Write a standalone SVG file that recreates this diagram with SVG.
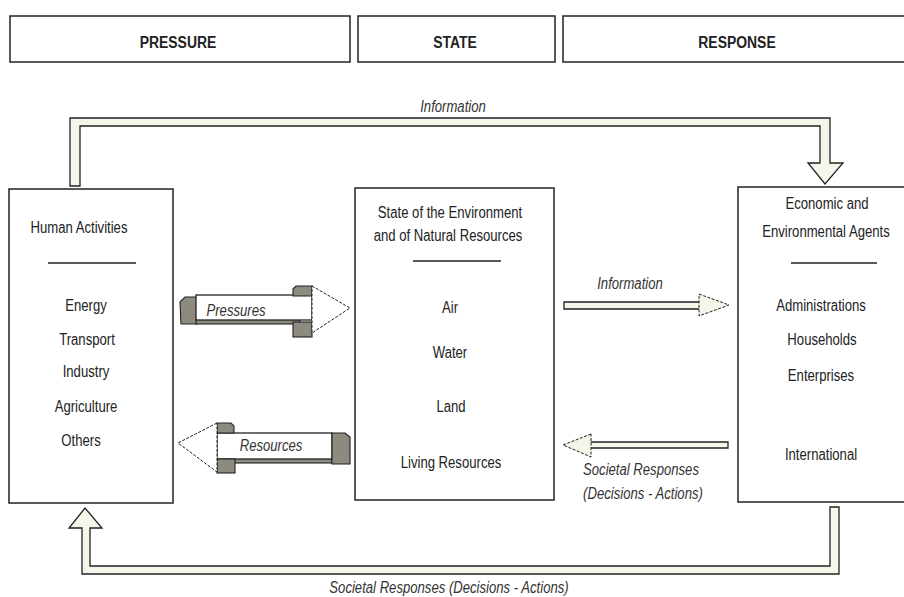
<svg xmlns="http://www.w3.org/2000/svg" width="904" height="597" viewBox="0 0 904 597">
<style>
text{font-family:"Liberation Sans",Arial,sans-serif;font-size:16px;fill:#222;text-anchor:middle}
.hdr{font-weight:bold;font-size:17px}
.it{font-style:italic;fill:#333}
.box{fill:#fff;stroke:#222;stroke-width:1.5}
.sep{stroke:#222;stroke-width:1.3}
.flow{fill:#f2f7ea;stroke:#222;stroke-width:1.3}
.head{fill:#f2f7ea;stroke:#222;stroke-width:1;stroke-dasharray:3 1.5}
.whead{fill:#fff;stroke:#222;stroke-width:1;stroke-dasharray:3 1.5}
.shaft{fill:#fff;stroke:#222;stroke-width:1.3}
.blk{fill:#8d8a80;stroke:#222;stroke-width:1.1}
</style>
<rect width="904" height="597" fill="#fff"/>
<g id="hdr-pressure"><rect class="box" x="10" y="16" width="340" height="46"/><text class="hdr" transform="translate(178 48) scale(.82 1)">PRESSURE</text></g>
<g id="hdr-state"><rect class="box" x="358" y="16" width="197" height="46"/><text class="hdr" transform="translate(455 48) scale(.82 1)">STATE</text></g>
<g id="hdr-response"><rect class="box" x="563" y="16" width="350" height="46"/><text class="hdr" transform="translate(737 48) scale(.82 1)">RESPONSE</text></g>

<g id="connectors">
<polygon id="info-top" class="flow" points="70,186 70,118 830,118 830,163 843,163 825,184 808,163 820,163 820,126 80,126 80,186"/>
<text class="it" transform="translate(453 112) scale(.82 1)">Information</text>
<polygon id="resp-bottom" class="flow" points="839,507 839,574 82,574 82,528 69,528 85,508 102,528 90,528 90,566 830,566 830,507"/>
<text class="it" transform="translate(449 593) scale(.82 1)">Societal Responses (Decisions - Actions)</text>

<g id="pressures-arrow">
<polygon class="blk" points="180,302 185,297 197,297 197,324 181,324"/>
<rect class="blk" x="196" y="319" width="104" height="5"/>
<rect class="shaft" x="196" y="295" width="116" height="25"/>
<polygon class="blk" points="293,289 296,286 312,286 312,296 293,296"/>
<rect class="blk" x="293" y="322" width="19" height="15"/>
<polygon class="whead" points="312,286 350,308 312,333"/>
<text class="it" transform="translate(236 316) scale(.82 1)">Pressures</text>
</g>
<g id="resources-arrow">
<rect class="blk" x="228" y="458" width="104" height="5"/>
<rect class="shaft" x="217" y="433" width="115" height="26"/>
<polygon class="blk" points="332,433 345,433 350,437 350,464 332,464"/>
<polygon class="blk" points="217,423 231,423 234,426 234,433 217,433"/>
<rect class="blk" x="217" y="459" width="18" height="14"/>
<polygon class="whead" points="217,423 178,443 217,472"/>
<text class="it" transform="translate(271 451) scale(.82 1)">Resources</text>
</g>
<g id="info-mid">
<polygon class="flow" points="564,302 700,302 700,309 564,309"/>
<polygon class="head" points="699,294 729,305 699,316"/>
<text class="it" transform="translate(630 289) scale(.82 1)">Information</text>
</g>
<g id="resp-mid">
<polygon class="flow" points="728,442 590,442 590,448 728,448"/>
<polygon class="head" points="591,434 563,445 591,457"/>
<text class="it" transform="translate(641 475) scale(.82 1)">Societal Responses</text>
<text class="it" transform="translate(643 499) scale(.82 1)">(Decisions - Actions)</text>
</g>
</g>

<g id="human-activities">
<rect class="box" x="9" y="189" width="164" height="314"/>
<text transform="translate(79 233) scale(.82 1)">Human Activities</text>
<line class="sep" x1="48" y1="263" x2="136" y2="263"/>
<text transform="translate(86 311) scale(.82 1)">Energy</text>
<text transform="translate(87 345) scale(.82 1)">Transport</text>
<text transform="translate(86 377) scale(.82 1)">Industry</text>
<text transform="translate(86 412) scale(.82 1)">Agriculture</text>
<text transform="translate(81 446) scale(.82 1)">Others</text>
</g>

<g id="state-environment">
<rect class="box" x="355" y="188" width="199" height="312"/>
<text transform="translate(450 218) scale(.82 1)">State of the Environment</text>
<text transform="translate(448 241) scale(.82 1)">and of Natural Resources</text>
<line class="sep" x1="413" y1="261" x2="501" y2="261"/>
<text transform="translate(450 313) scale(.82 1)">Air</text>
<text transform="translate(450 358) scale(.82 1)">Water</text>
<text transform="translate(451 412) scale(.82 1)">Land</text>
<text transform="translate(451 468) scale(.82 1)">Living Resources</text>
</g>

<g id="agents">
<rect class="box" x="738" y="187" width="175" height="315"/>
<text transform="translate(827 209) scale(.82 1)">Economic and</text>
<text transform="translate(826 237) scale(.82 1)">Environmental Agents</text>
<line class="sep" x1="791" y1="263" x2="877" y2="263"/>
<text transform="translate(821 311) scale(.82 1)">Administrations</text>
<text transform="translate(822 345) scale(.82 1)">Households</text>
<text transform="translate(821 381) scale(.82 1)">Enterprises</text>
<text transform="translate(821 460) scale(.82 1)">International</text>
</g>
</svg>
